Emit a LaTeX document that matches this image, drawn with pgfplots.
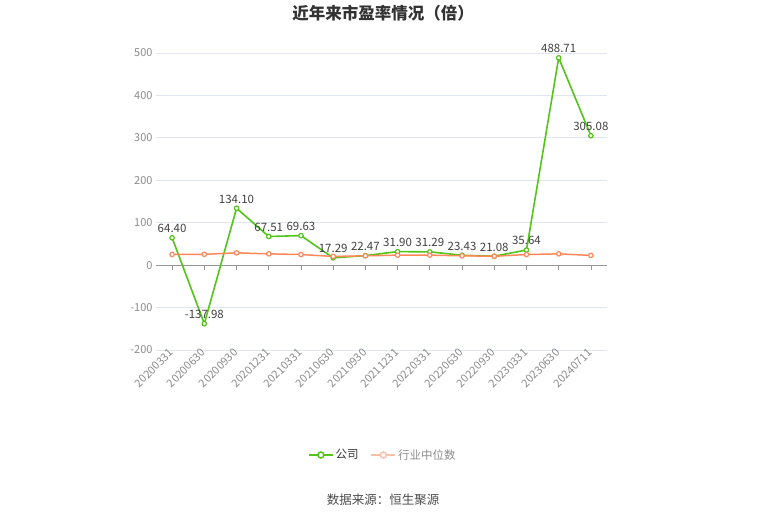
\documentclass[border=0pt]{standalone}
\usepackage{pgfplots}
\pgfplotsset{compat=1.18}
\usepackage{fontspec}
\setmainfont{Noto Sans CJK SC}
\definecolor{cgreen}{RGB}{82,196,26}
\definecolor{corange}{RGB}{255,135,90}
\definecolor{corangel}{RGB}{255,192,168}
\definecolor{cgrid}{RGB}{224,230,241}
\definecolor{ctick}{RGB}{140,140,140}
\definecolor{caxis}{RGB}{150,150,150}
\begin{document}
\begin{tikzpicture}[x=1pt,y=1pt]
\useasboundingbox (0,0) rectangle (765,517);
\node[font=\bfseries\fontsize{16.5}{19}\selectfont, text=black!80] at (383,504) {近年来市盈率情况（倍）};
\node[font=\fontsize{12.5}{15}\selectfont, text=black!70] at (383,17) {数据来源：恒生聚源};
\begin{axis}[
  at={(156pt,167pt)}, anchor=south west, scale only axis,
  width=451pt, height=297pt,
  xmin=-0.5, xmax=13.5, ymin=-200, ymax=500,
  ytick={-200,-100,0,100,200,300,400,500},
  xtick={0,...,13},
  xticklabels={20200331,20200630,20200930,20201231,20210331,20210630,20210930,20211231,20220331,20220630,20220930,20230331,20230630,20240711},
  axis line style={draw=none},
  tick style={draw=none},
  ymajorgrids, grid style={cgrid, line width=0.8pt},
  /pgf/number format/assume math mode=true,
  yticklabel style={font=\fontsize{11}{13}\selectfont, text=ctick},
  xticklabel style={font=\fontsize{11}{13}\selectfont, text=ctick, rotate=45, anchor=east, inner sep=1pt},
  clip=false,
  legend style={at={(axis description cs:0.503,-0.3535)}, anchor=center, draw=none, fill=none,
    legend columns=2, font=\fontsize{11.5}{14}\selectfont,
    /tikz/every even column/.append style={column sep=10pt}},
  legend image code/.code={\draw[mark repeat=2,mark phase=2,#1] plot coordinates {(0pt,0pt)(12pt,0pt)(24pt,0pt)};},
]
\draw[caxis, line width=0.8pt] (axis cs:-0.5,0) -- (axis cs:13.5,0);
\pgfplotsinvokeforeach{0,...,13}{\draw[caxis, line width=0.8pt] (axis cs:#1,0) -- ([yshift=-5pt]axis cs:#1,0);}
\addlegendimage{cgreen, line width=1.5pt, mark=*, mark size=3pt, mark options={fill=white, draw=cgreen, line width=1.5pt}}
\addlegendentry{\textcolor{black!80}{公司}}
\addlegendimage{corangel, line width=1.5pt, mark=*, mark size=3pt, mark options={fill=white, draw=corangel, line width=1.5pt}}
\addlegendentry{\textcolor{black!45}{行业中位数}}
\addplot[cgreen, line width=1.6pt, mark=*, mark size=2.2pt,
  mark options={fill=white, draw=cgreen, line width=1.2pt},
  nodes near coords, point meta=explicit symbolic,
  every node near coord/.append style={font=\fontsize{11.5}{13}\selectfont, text=black!75, anchor=south, yshift=1pt}]
coordinates {
(0,64.40) [64.40]
(1,-137.98) [-137.98]
(2,134.10) [134.10]
(3,67.51) [67.51]
(4,69.63) [69.63]
(5,17.29) [17.29]
(6,22.47) [22.47]
(7,31.90) [31.90]
(8,31.29) [31.29]
(9,23.43) [23.43]
(10,21.08) [21.08]
(11,35.64) [35.64]
(12,488.71) [488.71]
(13,305.08) [305.08]
};
\addplot[corange, line width=1.5pt, mark=*, mark size=2.2pt,
  mark options={fill=white, draw=corange, line width=1.2pt}]
coordinates {
(0,25.2) (1,25.5) (2,29.0) (3,26.6) (4,25.0) (5,20.5) (6,22.0) (7,23.6) (8,23.6) (9,22.0) (10,21.0) (11,25.0) (12,26.6) (13,23.0)
};
\end{axis}
\end{tikzpicture}
\end{document}
